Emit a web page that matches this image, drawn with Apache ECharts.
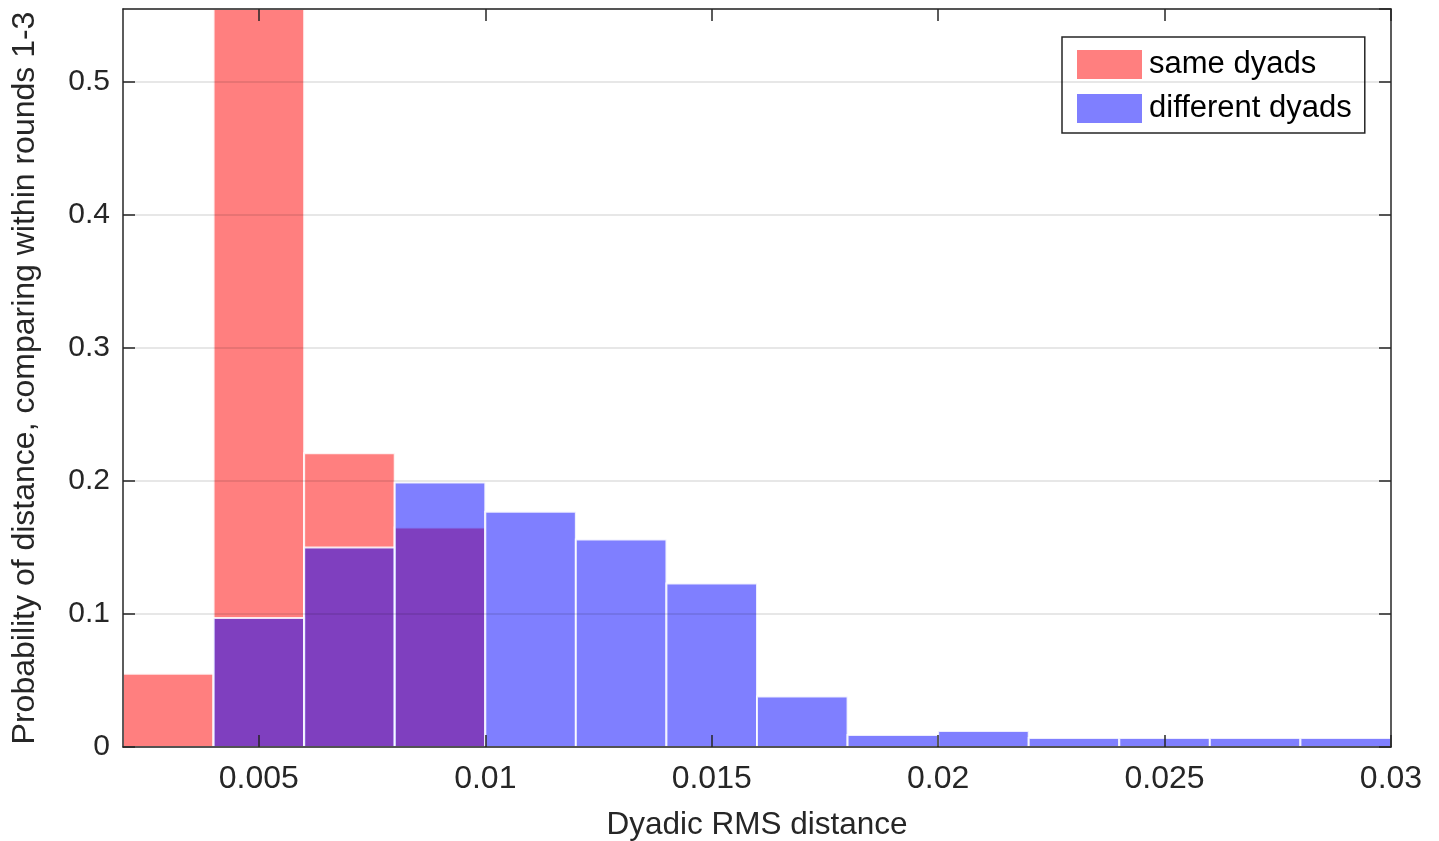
<!DOCTYPE html>
<html>
<head>
    <meta charset="utf-8">
    <title>dyadic rms histogram</title>
    <script src="https://cdn.jsdelivr.net/npm/echarts@6/dist/echarts.min.js"></script>
    <style>
        html, body { margin: 0; padding: 0; background: #fff; }
    </style>
</head>
<body>

<div id="main" style="width: 1439px;height:841px;"></div>

<script type="text/javascript">
    // bin edges of the histogram (0.002 wide)
    var binEdges = [0.002, 0.004, 0.006, 0.008, 0.010, 0.012, 0.014, 0.016,
                    0.018, 0.020, 0.022, 0.024, 0.026, 0.028, 0.030];
    // probability per bin
    var sameDyads = [0.055, 0.56, 0.221, 0.165, 0, 0, 0, 0, 0, 0, 0, 0, 0, 0];
    var diffDyads = [0, 0.097, 0.150, 0.199, 0.177, 0.156, 0.123, 0.038,
                     0.009, 0.012, 0.0068, 0.0068, 0.0068, 0.0068];
    var xTicks = [0.005, 0.01, 0.015, 0.02, 0.025, 0.03];
    var xTickLabels = ['0.005', '0.01', '0.015', '0.02', '0.025', '0.03'];

    var FONT = '"Liberation Sans", Arial, Helvetica, sans-serif';
    var INK = '#262626';

    function toBins(values) {
        var out = [];
        for (var i = 0; i < values.length; i++) {
            out.push([binEdges[i], binEdges[i + 1], values[i]]);
        }
        return out;
    }

    function renderBin(params, api) {
        var p0 = api.coord([api.value(0), 0]);
        var p1 = api.coord([api.value(1), api.value(2)]);
        var rect = echarts.graphic.clipRectByRect({
            x: p0[0], y: p1[1], width: p1[0] - p0[0], height: p0[1] - p1[1]
        }, {
            x: params.coordSys.x, y: params.coordSys.y,
            width: params.coordSys.width, height: params.coordSys.height
        });
        if (!rect || api.value(2) <= 0) return;
        return {
            type: 'rect',
            shape: rect,
            style: {
                fill: api.visual('color'),
                stroke: 'rgba(255,255,255,0.85)',
                lineWidth: 2
            }
        };
    }

    var myChart = echarts.init(document.getElementById('main'));

    var option = {
        backgroundColor: '#fff',
        animation: false,
        grid: { left: 123, right: 48, top: 9, bottom: 94, outerBoundsMode: 'none', containLabel: false },
        legend: {
            left: 1062, top: 37,
            orient: 'vertical',
            icon: 'rect',
            itemWidth: 65, itemHeight: 29, itemGap: 13,
            padding: [12, 13, 9, 15],
            borderColor: INK, borderWidth: 1.5,
            backgroundColor: '#fff',
            textStyle: { fontFamily: FONT, fontSize: 31, color: '#000', padding: [0, 0, 0, 2] },
            data: [
                { name: 'same dyads', itemStyle: { color: 'rgba(255,0,0,0.5)', borderWidth: 0 } },
                { name: 'different dyads', itemStyle: { color: 'rgba(0,0,255,0.5)', borderWidth: 0 } }
            ]
        },
        xAxis: [{
            type: 'value',
            min: 0.002, max: 0.03,
            z: 5,
            name: 'Dyadic RMS distance',
            nameLocation: 'middle',
            nameGap: 62,
            nameTextStyle: { fontFamily: FONT, fontSize: 31.5, color: INK },
            axisLine: { lineStyle: { color: INK, width: 1.5 } },
            axisTick: { inside: true, length: 12, customValues: xTicks, lineStyle: { color: INK, width: 1.5 } },
            axisLabel: {
                customValues: xTicks,
                formatter: function (v) { return xTickLabels[xTicks.indexOf(+v.toFixed(3))] || ''; },
                margin: 16, fontFamily: FONT, fontSize: 32, color: INK
            },
            splitLine: { show: false }
        }, {
            type: 'value',
            position: 'top',
            min: 0.002, max: 0.03,
            z: 5,
            axisLine: { show: true, onZero: false, lineStyle: { color: INK, width: 1.5 } },
            axisTick: { show: true, inside: true, length: 12, customValues: xTicks, lineStyle: { color: INK, width: 1.5 } },
            axisLabel: { show: false },
            splitLine: { show: false }
        }],
        yAxis: [{
            type: 'value',
            min: 0, max: 0.555, interval: 0.1,
            z: 5,
            name: 'Probability of distance, comparing within rounds 1-3',
            nameLocation: 'middle',
            nameGap: 82,
            nameTextStyle: { fontFamily: FONT, fontSize: 32, color: INK },
            axisLine: { show: true, lineStyle: { color: INK, width: 1.5 } },
            axisTick: { show: true, inside: true, length: 12, lineStyle: { color: INK, width: 1.5 } },
            axisLabel: { showMaxLabel: false, margin: 13, fontFamily: FONT, fontSize: 30, color: INK },
            splitLine: { show: true, lineStyle: { color: 'rgba(0,0,0,0.13)', width: 1.5 } }
        }, {
            type: 'value',
            position: 'right',
            min: 0, max: 0.555, interval: 0.1,
            z: 5,
            axisLine: { show: true, onZero: false, lineStyle: { color: INK, width: 1.5 } },
            axisTick: { show: true, inside: true, length: 12, lineStyle: { color: INK, width: 1.5 } },
            axisLabel: { show: false },
            splitLine: { show: false }
        }],
        series: [{
            name: 'same dyads',
            type: 'custom',
            renderItem: renderBin,
            itemStyle: { color: 'rgba(255,0,0,0.5)' },
            encode: { x: [0, 1], y: 2 },
            data: toBins(sameDyads),
            z: 2
        }, {
            name: 'different dyads',
            type: 'custom',
            renderItem: renderBin,
            itemStyle: { color: 'rgba(0,0,255,0.5)' },
            encode: { x: [0, 1], y: 2 },
            data: toBins(diffDyads),
            z: 3
        }]
    };

    myChart.setOption(option);
</script>
</body>
</html>
